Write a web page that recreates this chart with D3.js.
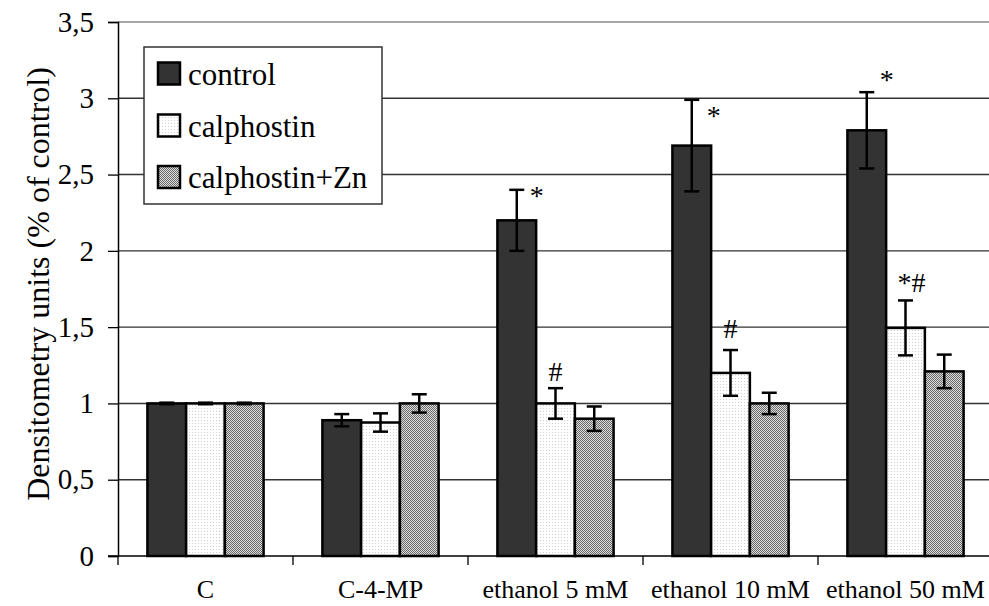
<!DOCTYPE html>
<html><head><meta charset="utf-8">
<script src="https://cdn.jsdelivr.net/npm/d3@7"></script>
<style>body{margin:0;background:#fff}svg{display:block}</style>
</head><body>
<svg id="c" width="989" height="606" font-family="Liberation Serif, Times New Roman, serif"></svg>
<script>
const categories = ["C", "C-4-MP", "ethanol 5 mM", "ethanol 10 mM", "ethanol 50 mM"];
const seriesNames = ["control", "calphostin", "calphostin+Zn"];
const controlVals = [1.0, 0.89, 2.2, 2.69, 2.79];
const controlErr = [0.005, 0.04, 0.2, 0.3, 0.25];
const calphVals = [1.0, 0.875, 1.0, 1.2, 1.495];
const calphErr = [0.005, 0.06, 0.1, 0.15, 0.18];
const znVals = [1.0, 1.0, 0.9, 1.0, 1.21];
const znErr = [0.005, 0.06, 0.08, 0.07, 0.11];
const yTicks = [0, 0.5, 1, 1.5, 2, 2.5, 3, 3.5];
const yTickLabels = ["0", "0,5", "1", "1,5", "2", "2,5", "3", "3,5"];
// annotations: [category index, series index, text]
const annotations = [[2, 0, "*"], [3, 0, "*"], [4, 0, "*"], [2, 1, "#"], [3, 1, "#"], [4, 1, "*#"]];

(function(){
const FF = "'Liberation Serif', 'Times New Roman', serif";
const svg = d3.select("#c");
const defs = svg.append("defs");
const p1 = defs.append("pattern").attr("id","pCal").attr("width",3).attr("height",3).attr("patternUnits","userSpaceOnUse");
p1.append("rect").attr("width",3).attr("height",3).attr("fill","#fff");
p1.append("rect").attr("width",1).attr("height",1).attr("fill","#d0d0d0");
const p2 = defs.append("pattern").attr("id","pZn").attr("width",2).attr("height",2).attr("patternUnits","userSpaceOnUse");
p2.append("rect").attr("width",2).attr("height",2).attr("fill","#dcdcdc");
p2.append("rect").attr("width",1).attr("height",1).attr("fill","#6a6a6a");
p2.append("rect").attr("x",1).attr("y",1).attr("width",1).attr("height",1).attr("fill","#6a6a6a");
const fills = ["#333333", "url(#pCal)", "url(#pZn)"];

const pL = 118, pR = 993, pT = 22, pB = 556;
const y = d3.scaleLinear().domain([0, 3.5]).range([pB, pT]);
const x0 = d3.scaleBand().domain(categories).range([pL, pR]).padding(0);
const bw = x0.bandwidth();
const x1 = d3.scaleBand().domain(seriesNames).range([bw*0.168, bw*0.832]).padding(0);

// gridlines
svg.append("g").selectAll("line").data(yTicks.filter(d=>d>0)).join("line")
  .attr("x1", pL).attr("x2", 989).attr("y1", d=>y(d)).attr("y2", d=>y(d))
  .attr("stroke", d=> d===3.5 ? "#888" : "#333").attr("stroke-width", 1.4);

// y axis
const yAxis = d3.axisLeft(y).tickValues(yTicks).tickFormat((d,i)=>yTickLabels[i]).tickSize(10).tickPadding(14);
const ya = svg.append("g").attr("transform", `translate(${pL},0)`).call(yAxis);
ya.attr("font-family", FF);
ya.select(".domain").attr("stroke","#000").attr("stroke-width",1.5);
ya.selectAll(".tick line").attr("stroke","#000").attr("stroke-width",1.3);
ya.selectAll(".tick text").style("font-family",FF).style("font-size","29px").attr("fill","#000");

// x axis
const xAxis = d3.axisBottom(x0).tickSize(0).tickPadding(0);
const xa = svg.append("g").attr("transform", `translate(0,${pB})`).call(xAxis);
xa.attr("font-family", FF);
xa.select(".domain").remove();
xa.append("line").attr("x1", pL-10).attr("x2", 989).attr("y1",0).attr("y2",0).attr("stroke","#000").attr("stroke-width",1.5);
xa.selectAll(".bound").data(categories).join("line").attr("class","bound")
  .attr("x1", d=>x0(d)).attr("x2", d=>x0(d)).attr("y1",0).attr("y2",9).attr("stroke","#000").attr("stroke-width",1.3);
xa.selectAll(".tick text").style("font-family",FF).style("font-size","26px").attr("fill","#000").attr("y",42).attr("dy",0);

// bars
const vals = [controlVals, calphVals, znVals];
const errs = [controlErr, calphErr, znErr];
const data = [];
categories.forEach((c,i)=> seriesNames.forEach((s,j)=> data.push({c, s, j, v: vals[j][i], e: errs[j][i]})));
const g = svg.append("g");
g.selectAll("rect").data(data).join("rect")
  .attr("x", d=>x0(d.c)+x1(d.s)).attr("width", x1.bandwidth())
  .attr("y", d=>y(d.v)).attr("height", d=>y(0)-y(d.v))
  .attr("fill", d=>fills[d.j]).attr("stroke","#000").attr("stroke-width",2.5);
// error bars
const eb = svg.append("g").attr("stroke","#000").attr("stroke-width",2.5);
data.forEach(d=>{
  const cx = x0(d.c)+x1(d.s)+x1.bandwidth()/2;
  eb.append("line").attr("x1",cx).attr("x2",cx).attr("y1",y(d.v+d.e)).attr("y2",y(d.v-d.e));
  eb.append("line").attr("x1",cx-7.5).attr("x2",cx+7.5).attr("y1",y(d.v+d.e)).attr("y2",y(d.v+d.e));
  eb.append("line").attr("x1",cx-7.5).attr("x2",cx+7.5).attr("y1",y(d.v-d.e)).attr("y2",y(d.v-d.e));
});

// annotations
const annOffsets = {"2,0":[20,6], "3,0":[22,16], "4,0":[20,-13], "2,1":[0,-17], "3,1":[0,-22], "4,1":[6,-18]};
annotations.forEach(([ci,si,t])=>{
  const c = categories[ci], s = seriesNames[si];
  const cx = x0(c)+x1(s)+x1.bandwidth()/2;
  const ty = y(vals[si][ci]+errs[si][ci]);
  const o = annOffsets[ci+","+si];
  svg.append("text").attr("x", cx+o[0]).attr("y", ty+o[1]).attr("text-anchor","middle")
    .attr("dominant-baseline","central").style("font-family",FF).style("font-size","28px").text(t);
});

// y title
svg.append("text").attr("transform","translate(38,284) rotate(-90)").attr("text-anchor","middle")
  .attr("dominant-baseline","central").style("font-family",FF).style("font-size","32px").text("Densitometry units (% of control)");

// legend
const lg = svg.append("g");
lg.append("rect").attr("x",144).attr("y",47).attr("width",238).attr("height",157).attr("fill","#fff").attr("stroke","#333").attr("stroke-width",1.5);
const rowY = [73.5, 125.5, 177];
seriesNames.forEach((s,j)=>{
  lg.append("rect").attr("x",158).attr("y",rowY[j]-11).attr("width",22).attr("height",22).attr("fill",fills[j]).attr("stroke","#000").attr("stroke-width",2.5);
  lg.append("text").attr("x",188).attr("y",rowY[j]+11).style("font-family",FF).style("font-size","31px").text(s);
});
})();
</script>
</body></html>
